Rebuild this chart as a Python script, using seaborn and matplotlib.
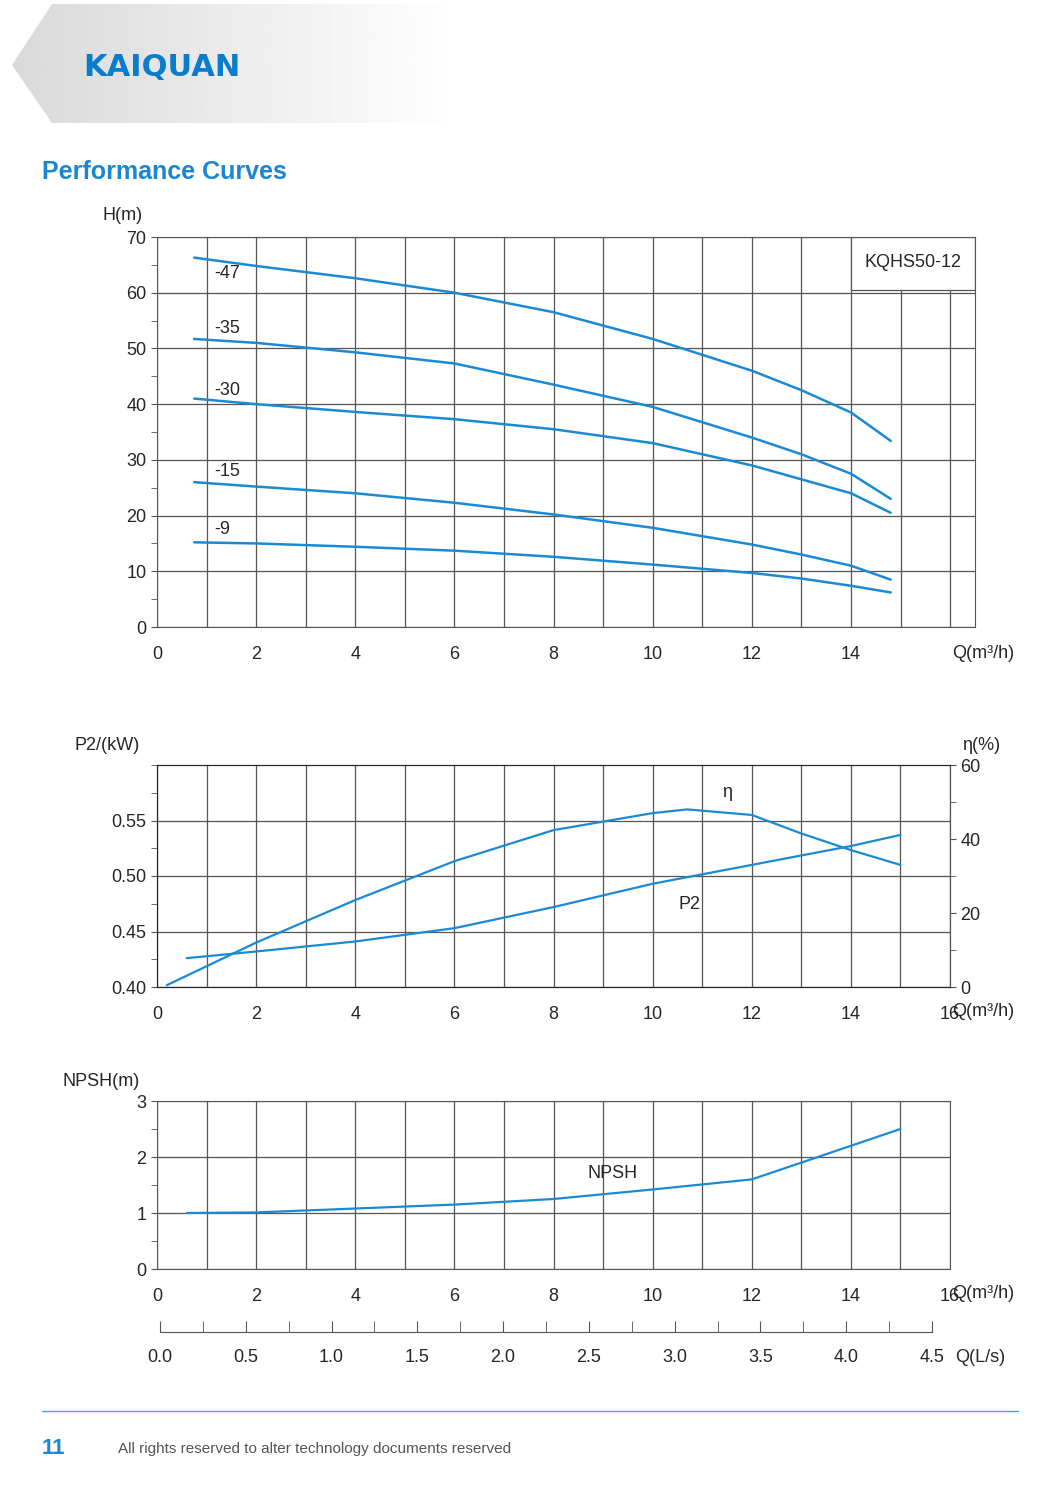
# Pump performance curves for KQHS50-12
# Objective:
# - Type the curve values read from the data sheet into pandas tables
# - Draw head, power/efficiency and NPSH charts with matplotlib and seaborn

import pandas as pd
import matplotlib.pyplot as plt
import seaborn as sns
import numpy as np
from matplotlib.patches import Polygon, Rectangle

sns.set_style('white')
plt.rcParams['font.family'] = ['Liberation Sans', 'DejaVu Sans']
plt.rcParams['font.size'] = 13

blue = '#1a8ad4'
grid_col = '#555555'

# Head curves, one per impeller trim
q = [0.75, 2, 4, 6, 8, 10, 12, 13, 14, 14.8]
head = {
    '-47': [66.3, 64.8, 62.6, 60.0, 56.5, 51.7, 46.0, 42.5, 38.5, 33.4],
    '-35': [51.7, 51.0, 49.3, 47.3, 43.5, 39.5, 34.0, 31.0, 27.5, 23.0],
    '-30': [41.0, 40.0, 38.6, 37.3, 35.5, 33.0, 29.0, 26.5, 24.0, 20.5],
    '-15': [26.0, 25.2, 24.0, 22.3, 20.2, 17.8, 14.8, 13.0, 11.0, 8.5],
    '-9': [15.2, 15.0, 14.4, 13.7, 12.6, 11.2, 9.7, 8.7, 7.4, 6.2],
}
df_h = pd.DataFrame(head, index=q).reset_index(names='Q').melt(id_vars='Q', var_name='Trim', value_name='H')

# Shaft power and efficiency
df_p2 = pd.DataFrame({'Q': [0.6, 2, 4, 6, 8, 10, 12, 14, 15],
                      'P2': [0.426, 0.432, 0.441, 0.453, 0.472, 0.493, 0.510, 0.527, 0.537]})
df_eta = pd.DataFrame({'Q': [0.2, 2, 4, 6, 8, 10, 10.7, 12, 13, 14, 15],
                       'eta': [0.5, 12.0, 23.5, 34.0, 42.4, 47.0, 48.0, 46.5, 41.5, 37.0, 33.0]})

# NPSH required
df_npsh = pd.DataFrame({'Q': [0.6, 2, 4, 6, 8, 10, 12, 13, 14, 15],
                        'NPSH': [1.0, 1.01, 1.08, 1.15, 1.25, 1.42, 1.6, 1.9, 2.2, 2.5]})

fig = plt.figure(figsize=(10.59, 14.86), dpi=100)
W, H = 1059, 1486


def box(x0, y0, x1, y1):
    return [x0 / W, 1 - y1 / H, (x1 - x0) / W, (y1 - y0) / H]


def style_grid(ax, xmax, ymin, ymax, ystep):
    ax.set_xticks(np.arange(0, xmax + 0.1, 1), minor=True)
    ax.set_yticks(np.arange(ymin, ymax + 1e-9, ystep), minor=True)
    ax.set_ylim(ymin, ymax)
    ax.grid(True, which='major', color=grid_col, linewidth=0.9)
    ax.grid(True, which='minor', axis='x', color=grid_col, linewidth=0.9)
    for s in ax.spines.values():
        s.set_color(grid_col)
    ax.tick_params(which='both', left=True, length=4, color=grid_col, labelsize=13)
    ax.tick_params(axis='x', which='both', length=0, pad=14)


# Header band with grey gradient
hdr = fig.add_axes([0, 0, 1, 1], zorder=-1)
hdr.set_xlim(0, W)
hdr.set_ylim(H, 0)
hdr.axis('off')
grad = np.linspace(0.85, 1.0, 256)[None, :]
img = hdr.imshow(grad, cmap='gray', vmin=0, vmax=1, extent=(12, 460, 123, 4), aspect='auto')
poly = Polygon([(12, 65), (52, 4), (460, 4), (460, 123), (52, 123)], closed=True, transform=hdr.transData)
img.set_clip_path(poly)
hdr.text(83, 68, 'KAIQUAN', color='#0a7ccc', fontsize=22, fontweight='bold', va='center',
         family=['DejaVu Sans'])
hdr.text(42, 172, 'Performance Curves', color='#1a85d0', fontsize=18, fontweight='bold', va='center')
hdr.plot([42, 1018], [1411, 1411], color='#4aa3e0', linewidth=1)
hdr.text(42, 1449, '11', color='#1a85d0', fontsize=16, fontweight='bold', va='center')
hdr.text(118, 1449, 'All rights reserved to alter technology documents reserved', color='#555555', fontsize=11, va='center')

# Head chart
ax1 = fig.add_axes(box(157, 237, 975, 627))
sns.lineplot(data=df_h, x='Q', y='H', units='Trim', estimator=None, color=blue, linewidth=1.8, ax=ax1)
ax1.set_xlim(0, 16.5)
ax1.set_xticks(range(0, 15, 2))
ax1.set_yticks(range(0, 71, 10))
style_grid(ax1, 16.5, 0, 70, 5)
ax1.set_xlabel('')
ax1.set_ylabel('')
for trim, y in zip(head.keys(), [63.5, 53.5, 42.5, 28, 17.5]):
    ax1.text(1.15, y, trim, fontsize=13, va='center')
ax1.add_patch(Rectangle((14, 60.5), 2.5, 9.5, facecolor='white', edgecolor=grid_col, linewidth=0.9, zorder=1))
ax1.text(15.25, 65.5, 'KQHS50-12', fontsize=13, ha='center', va='center', zorder=5)
fig.text(103 / W, 1 - 216 / H, 'H(m)', fontsize=13, va='center')
fig.text(952 / W, 1 - 654 / H, 'Q(m³/h)', fontsize=13, va='center')

# Power and efficiency chart
ax2 = fig.add_axes(box(157, 765, 950, 987))
sns.lineplot(data=df_p2, x='Q', y='P2', color=blue, linewidth=1.6, ax=ax2)
ax2.set_xlim(0, 16)
ax2.set_xticks(range(0, 17, 2))
ax2.set_yticks([0.40, 0.45, 0.50, 0.55])
ax2.set_yticklabels(['0.40', '0.45', '0.50', '0.55'])
style_grid(ax2, 16, 0.40, 0.60, 0.025)
ax2.set_xlabel('')
ax2.set_ylabel('')
ax2.text(10.75, 0.474, 'P2', fontsize=13, ha='center', va='center')
ax2b = ax2.twinx()
sns.lineplot(data=df_eta, x='Q', y='eta', color=blue, linewidth=1.6, ax=ax2b)
ax2b.set_ylim(0, 60)
ax2b.set_yticks([0, 20, 40, 60])
ax2b.set_yticks([10, 30, 50], minor=True)
ax2b.tick_params(which='both', right=True, length=4, color=grid_col, labelsize=13)
ax2b.set_ylabel('')
ax2b.spines['right'].set_color(grid_col)
ax2b.text(11.5, 52.5, 'η', fontsize=13, ha='center', va='center')
fig.text(75 / W, 1 - 746 / H, 'P2/(kW)', fontsize=13, va='center')
fig.text(962 / W, 1 - 746 / H, 'η(%)', fontsize=13, va='center')
fig.text(952 / W, 1 - 1012 / H, 'Q(m³/h)', fontsize=13, va='center')

# NPSH chart
ax3 = fig.add_axes(box(157, 1101, 950, 1269))
sns.lineplot(data=df_npsh, x='Q', y='NPSH', color=blue, linewidth=1.6, ax=ax3)
ax3.set_xlim(0, 16)
ax3.set_xticks(range(0, 17, 2))
ax3.set_yticks(range(0, 4))
style_grid(ax3, 16, 0, 3, 0.5)
ax3.set_xlabel('')
ax3.set_ylabel('')
ax3.text(9.2, 1.7, 'NPSH', fontsize=13, ha='center', va='center')
fig.text(62 / W, 1 - 1082 / H, 'NPSH(m)', fontsize=13, va='center')
fig.text(952 / W, 1 - 1294 / H, 'Q(m³/h)', fontsize=13, va='center')

# Flow in litres per second
ax4 = fig.add_axes(box(160, 1300, 932, 1332))
ax4.set_xlim(0, 4.5)
ax4.set_yticks([])
for side in ['top', 'left', 'right']:
    ax4.spines[side].set_visible(False)
ax4.spines['bottom'].set_color(grid_col)
ax4.set_xticks(np.arange(0, 4.51, 0.5))
ax4.set_xticklabels([f'{v:.1f}' for v in np.arange(0, 4.51, 0.5)])
ax4.set_xticks(np.arange(0.25, 4.5, 0.5), minor=True)
ax4.tick_params(axis='x', which='both', bottom=True, direction='in', length=8, color=grid_col, labelsize=13, pad=12)
ax4.patch.set_alpha(0)
fig.text(955 / W, 1 - 1358 / H, 'Q(L/s)', fontsize=13, va='center')

plt.savefig('out.png', dpi=100)
